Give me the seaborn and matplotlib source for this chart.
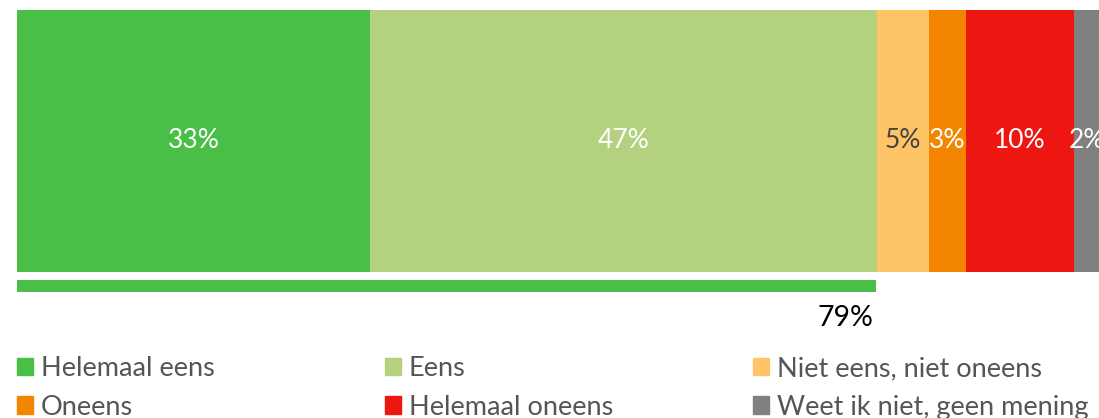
import matplotlib
matplotlib.use("Agg")
import matplotlib.pyplot as plt
import matplotlib.patches as mpatches
import seaborn as sns
import numpy as np

categories = ["Helemaal eens", "Eens", "Niet eens, niet oneens",
              "Oneens", "Helemaal oneens", "Weet ik niet, geen mening"]
values = [32.6, 46.9, 4.8, 3.4, 10.0, 2.3]
value_labels = ["33%", "47%", "5%", "3%", "10%", "2%"]
colors = ["#49BF48", "#B3D17F", "#FFC466", "#F38500", "#EE1611", "#808080"]
label_colors = ["white", "white", "#444444", "white", "white", "white"]
agree_total = 79.4
agree_label = "79%"

sns.set_theme(style="white")
plt.rcParams["font.family"] = ["Lato", "DejaVu Sans"]

W, H = 1099, 418
fig = plt.figure(figsize=(W / 100, H / 100), dpi=100)

# main stacked bar
ax = fig.add_axes([17 / W, (H - 272) / H, 1082 / W, 262 / H])
cum = np.cumsum(values)
for i in reversed(range(len(values))):
    sns.barplot(x=[cum[i]], y=[0], orient="h", color=colors[i], width=1.0,
                saturation=1, errorbar=None, ax=ax, linewidth=0)
for i, v in enumerate(values):
    ax.text(cum[i] - v / 2, 0, value_labels[i], ha="center", va="center",
            color=label_colors[i], fontsize=19, clip_on=False)
ax.set_xlim(0, 100)
ax.set_ylim(0.5, -0.5)
ax.axis("off")

# agreement underline
ax2 = fig.add_axes([17 / W, (H - 292) / H, 1082 / W, 12 / H])
sns.barplot(x=[agree_total], y=[0], orient="h", color=colors[0], width=1.0,
            saturation=1, errorbar=None, ax=ax2, linewidth=0)
ax2.set_xlim(0, 100)
ax2.set_ylim(0.5, -0.5)
ax2.axis("off")
ax2.annotate(agree_label, xy=(agree_total, 0), xycoords=("data", "axes fraction"),
             xytext=(-2, -9), textcoords="offset points", ha="right", va="top",
             fontsize=20.5, color="black")

# legend: three columns, two rows
col_x = [17, 385, 753]
for c in range(3):
    idx = [c, c + 3]
    handles = [mpatches.Patch(color=colors[j], label=categories[j]) for j in idx]
    fig.legend(handles=handles, loc="upper left",
               bbox_to_anchor=(col_x[c] / W, 1 - 356 / H),
               frameon=False, fontsize=19.5, handlelength=0.6, handleheight=0.6,
               handletextpad=0.28, labelspacing=0.5, borderpad=0,
               borderaxespad=0, labelcolor="#555555")

fig.savefig("out.png", dpi=100)
